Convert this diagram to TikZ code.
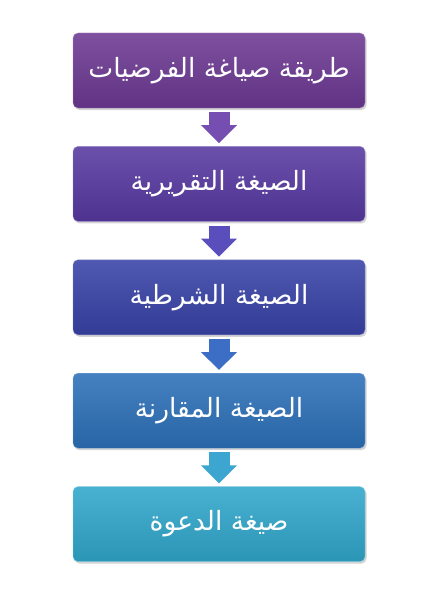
\documentclass[tikz,border=0pt]{standalone}
\usepackage{fontspec}
\newfontfamily\arabicfont[Script=Arabic]{DejaVu Sans}
\TeXXeTstate=1
\usetikzlibrary{positioning}
\usetikzlibrary{arrows.meta, shadows}
\definecolor{boxA}{RGB}{108,56,146}
\definecolor{boxB}{RGB}{86,56,160}
\definecolor{boxC}{RGB}{56,66,166}
\definecolor{boxD}{RGB}{44,112,184}
\definecolor{boxE}{RGB}{48,166,202}
\definecolor{arrA}{RGB}{118,78,178}
\definecolor{arrB}{RGB}{90,78,188}
\definecolor{arrC}{RGB}{60,110,198}
\definecolor{arrD}{RGB}{60,166,208}

\begin{document}
\begin{tikzpicture}[x=1pt, y=1pt,
    stagenode/.style={rectangle, rounded corners=5pt, minimum width=292pt, minimum height=75pt,
        text=white, font=\arabicfont\fontsize{26.5}{30}\selectfont,
        drop shadow={shadow xshift=1.5pt, shadow yshift=-2pt, opacity=0.35}
    },
    flowarrow/.style={line width=21pt, -{Triangle[width=35pt, length=18pt]},
        shorten <=4pt, shorten >=3pt
    }
]
    \useasboundingbox (0,0) rectangle (428,-602);

    \node[stagenode, draw=boxA!60!white, top color=boxA!88!white, bottom color=boxA!90!black] (method) at (219,-70.5) {\beginR طريقة صياغة الفرضيات\endR};
    \node[stagenode, draw=boxB!60!white, top color=boxB!88!white, bottom color=boxB!90!black] (declarative) [below=38pt of method] {\beginR الصيغة التقريرية\endR};
    \node[stagenode, draw=boxC!60!white, top color=boxC!88!white, bottom color=boxC!90!black] (conditional) [below=38pt of declarative] {\beginR الصيغة الشرطية\endR};
    \node[stagenode, draw=boxD!60!white, top color=boxD!88!white, bottom color=boxD!90!black] (comparative) [below=38pt of conditional] {\beginR الصيغة المقارنة\endR};
    \node[stagenode, draw=boxE!60!white, top color=boxE!88!white, bottom color=boxE!90!black] (invitation) [below=38pt of comparative] {\beginR صيغة الدعوة\endR};

    \draw[flowarrow, arrA] (method) -- (declarative);
    \draw[flowarrow, arrB] (declarative) -- (conditional);
    \draw[flowarrow, arrC] (conditional) -- (comparative);
    \draw[flowarrow, arrD] (comparative) -- (invitation);
\end{tikzpicture}
\end{document}
